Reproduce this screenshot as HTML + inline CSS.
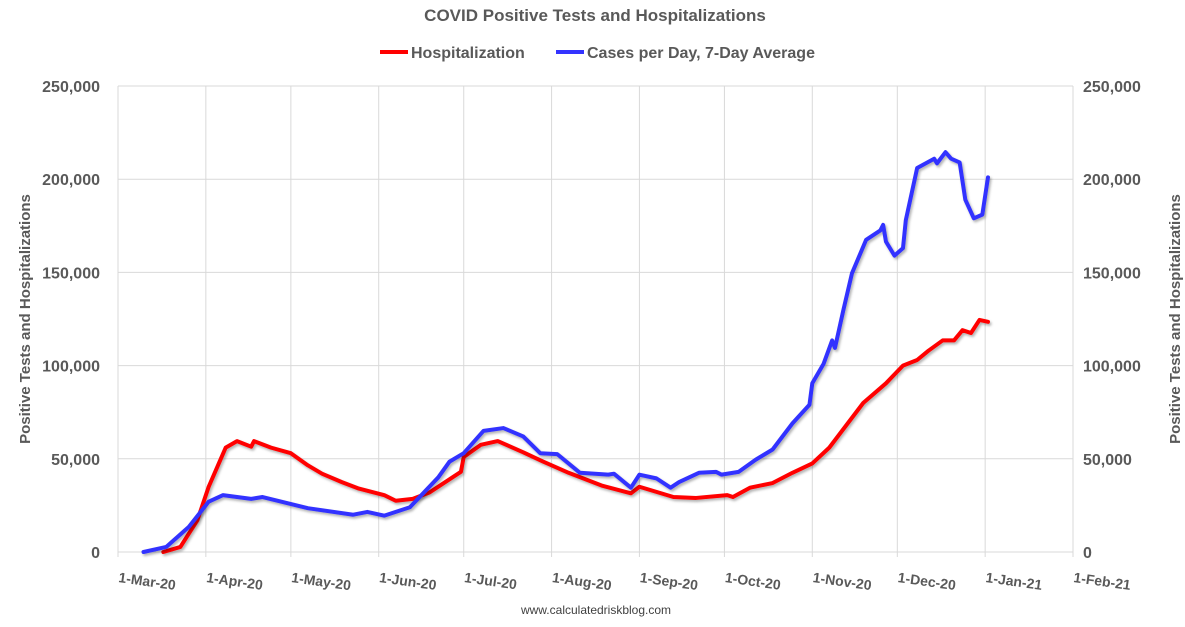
<!DOCTYPE html>
<html><head><meta charset="utf-8"><style>
body{margin:0;background:#fff;font-family:"Liberation Sans",sans-serif}
svg{display:block}
</style></head><body>
<svg id="c" width="1185" height="627" xmlns="http://www.w3.org/2000/svg">
<defs><filter id="sh" x="-5%" y="-5%" width="110%" height="110%"><feDropShadow dx="1.5" dy="2" stdDeviation="1.2" flood-color="#000" flood-opacity="0.3"/></filter></defs>
<text x="595" y="21" text-anchor="middle" font-size="17" font-weight="bold" fill="#595959">COVID Positive Tests and Hospitalizations</text>
<g>
<line x1="380" y1="52" x2="408" y2="52" stroke="#ff0000" stroke-width="4"/>
<text x="411" y="58" font-size="16" font-weight="bold" fill="#595959">Hospitalization</text>
<line x1="556" y1="52" x2="584" y2="52" stroke="#3333ff" stroke-width="4"/>
<text x="587" y="58" font-size="16" font-weight="bold" fill="#595959">Cases per Day, 7-Day Average</text>
</g>
<g id="grid"></g><g id="axes"></g><g id="series"></g>
<text transform="translate(30,319) rotate(-90)" text-anchor="middle" font-size="15" font-weight="bold" fill="#595959">Positive Tests and Hospitalizations</text>
<text transform="translate(1180,319) rotate(-90)" text-anchor="middle" font-size="15" font-weight="bold" fill="#595959">Positive Tests and Hospitalizations</text>
<text x="596" y="614" text-anchor="middle" font-size="12" fill="#404040">www.calculatedriskblog.com</text>
</svg>
<script>
const xTickLabels=["1-Mar-20","1-Apr-20","1-May-20","1-Jun-20","1-Jul-20","1-Aug-20","1-Sep-20","1-Oct-20","1-Nov-20","1-Dec-20","1-Jan-21","1-Feb-21"];
const xTickDays=[0,31,61,92,122,153,184,214,245,275,306,337];
const yTicks=[0,50000,100000,150000,200000,250000];
const hospDays=[16,22,28,32,36,38,42,47,48,54,61,67,72,79,85,94,98,104,110,121,122,128,134,143,150,159,171,181,184,196,204,215,217,223,231,238,245,251,257,263,271,277,282,286,291,295,298,301,304,307];
const hospVals=[0,2700,17000,35000,49000,56000,59500,56500,59500,56000,53000,46500,42000,37500,34000,30500,27500,28500,32000,43000,51000,57500,59500,53500,48500,42500,35500,31500,35000,29500,29000,30500,29500,34500,37000,42500,47500,56000,68000,80000,90500,100000,103000,108000,113500,113500,119000,117500,124500,123500];
const caseDays=[9,17,25,32,37,47,51,67,83,88,94,103,113,117,122,129,136,143,149,155,163,173,175,181,184,190,195,198,205,211,213,219,225,231,238,244,245,249,252,253,256,259,264,269,270,271,274,277,278,282,288,289,292,294,297,299,302,305,307];
const caseVals=[0,2700,13500,27000,30500,28500,29500,23500,20000,21500,19500,24000,40000,48500,53000,65000,66500,62000,53000,52500,42500,41500,42000,34500,41500,39500,34500,37500,42500,43000,41500,43000,49500,55000,69000,79000,90500,101000,113500,109500,130000,149500,167500,172500,175500,166500,159000,163000,178000,206000,211000,208500,214500,211000,209000,189000,179000,181000,201000];
const X0=118,X1=1073,Y0=552,Y1=86,DMAX=337,VMAX=250000;
const xs=d=>X0+(X1-X0)*d/DMAX, ys=v=>Y0-(Y0-Y1)*v/VMAX;
const NS="http://www.w3.org/2000/svg";
const g=document.getElementById('grid'),a=document.getElementById('axes'),s=document.getElementById('series');
function mk(tag,at,p){const e=document.createElementNS(NS,tag);for(const k in at)e.setAttribute(k,at[k]);p.appendChild(e);return e;}
yTicks.forEach((v,i)=>{
 const l=mk('line',{x1:X0,x2:X1,y1:ys(v),y2:ys(v),stroke:'#d9d9d9','stroke-width':1},g);
 
 
 const lab=v.toLocaleString('en-US');
 const t1=mk('text',{x:100,y:ys(v)+6,'text-anchor':'end','font-size':16,'font-weight':'bold',fill:'#595959'},a);t1.textContent=lab;
 
 
 const t2=mk('text',{x:1083,y:ys(v)+6,'font-size':16,'font-weight':'bold',fill:'#595959'},a);t2.textContent=lab;
 
 
});
xTickDays.forEach((d,i)=>{
 const l=mk('line',{x1:xs(d),x2:xs(d),y1:Y1,y2:Y0+5,stroke:'#d9d9d9','stroke-width':1},g);
 
 
 const t=mk('text',{transform:`translate(${xs(d)},${582}) rotate(8)`,'text-anchor':'start','font-size':14,'font-weight':'bold',fill:'#595959'},a);
 t.textContent=xTickLabels[i];
 
 
});
function line(days,vals,col,name){
 const p=mk('polyline',{points:days.map((d,i)=>xs(d)+','+ys(vals[i])).join(' '),fill:'none',stroke:col,'stroke-width':4,'stroke-linejoin':'round','stroke-linecap':'round',filter:'url(#sh)'},s);
 
 
}
line(hospDays,hospVals,'#ff0000','hospitalization-line');
line(caseDays,caseVals,'#3333ff','cases-line');
</script>
</body></html>
